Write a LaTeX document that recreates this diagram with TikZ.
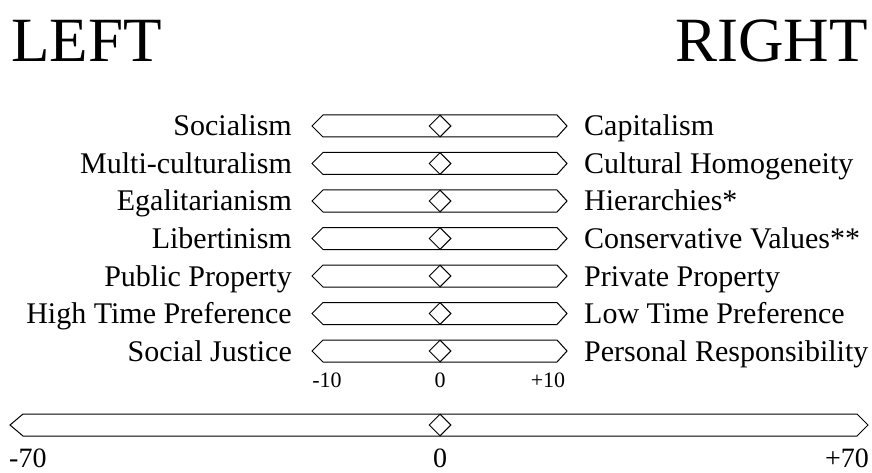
\documentclass[tikz,border=0pt]{standalone}
\usepackage{fontspec}
\setmainfont{Liberation Serif}
\usetikzlibrary{shapes.geometric}
\tikzset{
  lbl/.style={font=\fontsize{30}{34}\selectfont, inner sep=0pt},
  big/.style={font=\fontsize{63}{70}\selectfont, inner sep=0pt},
  small/.style={font=\fontsize{22}{26}\selectfont, inner sep=0pt},
  mid/.style={font=\fontsize{28}{32}\selectfont, inner sep=0pt},
  barline/.style={draw=black, line width=1pt, line join=miter, fill=white},
  dia/.style={diamond, draw=black, line width=1pt, fill=white, minimum width=22pt, minimum height=22pt, inner sep=0pt, aspect=1},
}
\begin{document}
\begin{tikzpicture}[x=1pt,y=-1pt]
\useasboundingbox (0,0) rectangle (872,473);
\node[big, anchor=base west] (left) at (11,62) {LEFT};
\node[big, anchor=base east] (right) at (868,62) {RIGHT};
\foreach \i/\l/\r in {0/Socialism/Capitalism,1/Multi-culturalism/Cultural Homogeneity,2/Egalitarianism/Hierarchies*,3/Libertinism/Conservative Values**,4/Public Property/Private Property,5/High Time Preference/Low Time Preference,6/Social Justice/Personal Responsibility}{
  \pgfmathsetmacro{\yy}{126+37.5*\i}
  \draw[barline] (312,\yy) -- (323,\yy-11) -- (557,\yy-11) -- (567,\yy) -- (557,\yy+11) -- (323,\yy+11) -- cycle;
  \node[dia] (d\i) at (440,\yy) {};
  \node[lbl, anchor=base east] (l\i) at (292,\yy+10) {\l};
  \node[lbl, anchor=base west] (r\i) at (584,\yy+10) {\r};
}
\node[small, anchor=base] (m10) at (327,387) {-10};
\node[small, anchor=base] (z10) at (440,387) {0};
\node[small, anchor=base] (p10) at (548,387) {+10};
\draw[barline] (10,425) -- (23,414) -- (857,414) -- (868,425) -- (857,436) -- (23,436) -- cycle;
\node[dia] (dbig) at (440,425) {};
\node[mid, anchor=base west] (m70) at (9,467) {-70};
\node[mid, anchor=base] (z70) at (440,467) {0};
\node[mid, anchor=base east] (p70) at (869,467) {+70};
\end{tikzpicture}
\end{document}
